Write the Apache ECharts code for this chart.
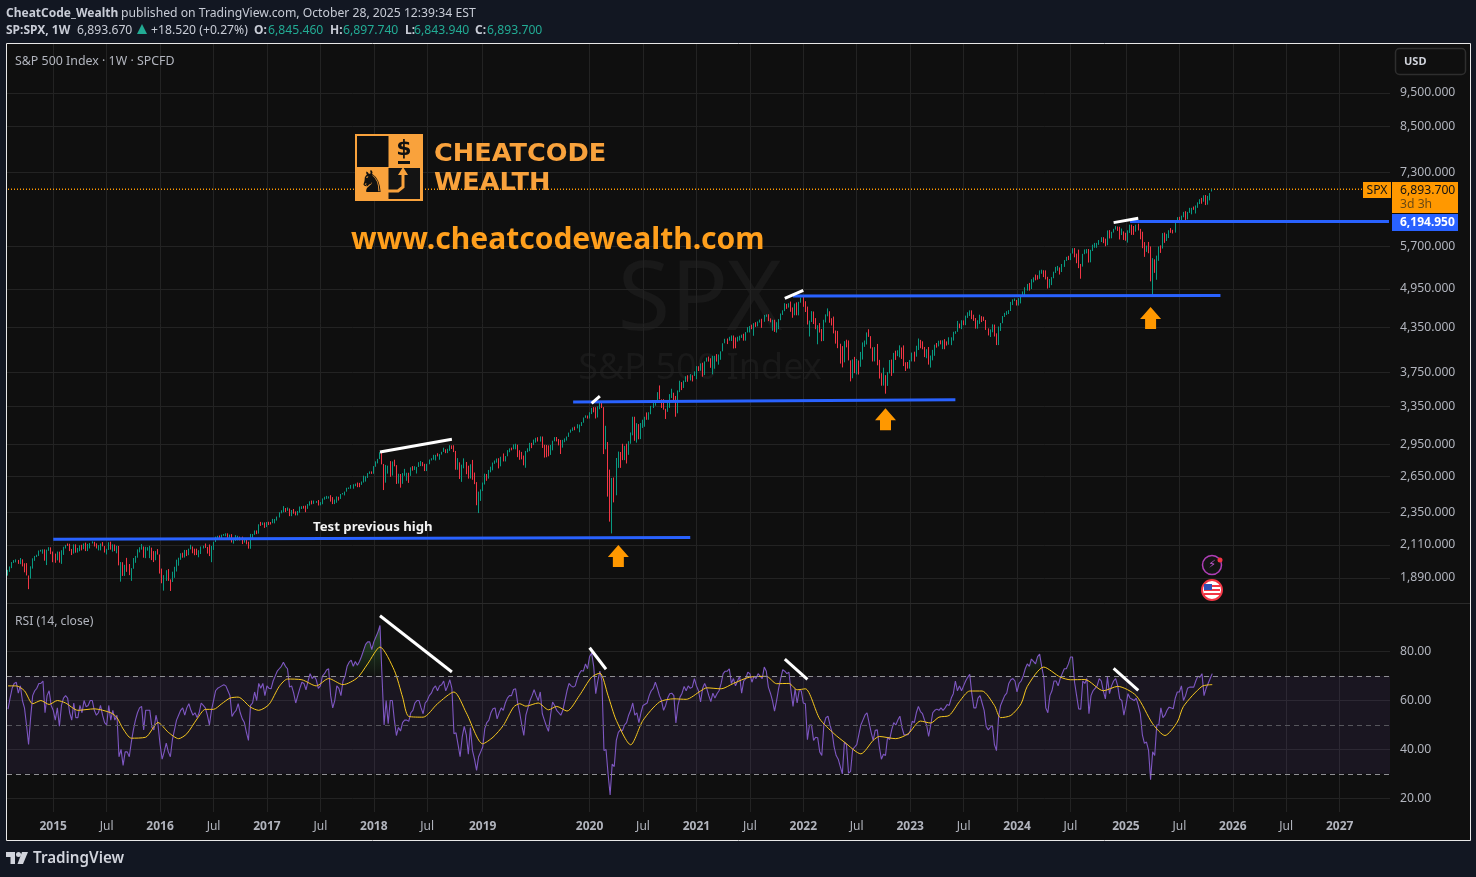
<!DOCTYPE html>
<html><head><meta charset="utf-8">
<script src="https://cdn.jsdelivr.net/npm/echarts@6/dist/echarts.min.js"></script>
<style>html,body{margin:0;padding:0;background:#121722}#c{width:1476px;height:877px}</style></head>
<body><div id="c"></div>
<script>
// weekly [high, low, close], per calendar year; first week starts 2014-08-04
const hlc2014=[[1942,1905,1931],[1964,1929,1955],[1993,1953,1988],[2006,1987,2003],[2011,1991,2007],[2007,1981,1985],[2020,1979,2011],[2001,1964,1983],[1985,1926,1968],[1986,1906,1906],[1906,1821,1887],[1965,1886,1965],[2018,1950,2018],[2034,2001,2032],[2042,2026,2040],[2071,2034,2064],[2076,2064,2068],[2079,2049,2075],[2079,2002,2002],[2077,1973,2071],[2094,2069,2089],[2093,2046,2059]];
const hlc2015=[[2064,1992,2045],[2050,1988,2019],[2064,2004,2051],[2063,1989,1995],[2073,1981,2055],[2097,2041,2097],[2110,2085,2110],[2120,2103,2105],[2118,2067,2071],[2082,2040,2053],[2114,2050,2108],[2114,2056,2061],[2089,2057,2066],[2107,2066,2102],[2111,2072,2081],[2120,2080,2117],[2126,2067,2108],[2117,2067,2116],[2123,2085,2122],[2135,2120,2126],[2132,2099,2107],[2121,2085,2092],[2109,2072,2094],[2120,2072,2110],[2130,2100,2102],[2089,2057,2077],[2083,2044,2077],[2129,2075,2127],[2133,2077,2079],[2114,2063,2104],[2113,2067,2078],[2104,2052,2091],[2103,1971,1971],[1993,1867,1989],[1992,1903,1921],[1975,1903,1961],[2021,1929,1958],[1980,1908,1931],[1953,1872,1951],[2020,1949,2014],[2034,1988,2033],[2079,2022,2075],[2094,2058,2079],[2116,2077,2099],[2094,2022,2023],[2097,2019,2089],[2094,2070,2090],[2104,2019,2091],[2090,2006,2012],[2067,1993,2005],[2067,2005,2061],[2081,2043,2044]];
const hlc2016=[[2038,1918,1922],[1950,1857,1880],[1908,1812,1906],[1940,1872,1940],[1947,1872,1880],[1881,1810,1865],[1930,1871,1917],[1962,1891,1948],[2009,1931,1999],[2022,1969,2022],[2052,2008,2050],[2056,2022,2035],[2075,2023,2072],[2075,2033,2047],[2084,2039,2081],[2111,2079,2091],[2099,2052,2065],[2084,2039,2057],[2084,2040,2046],[2073,2025,2052],[2099,2047,2099],[2105,2085,2099],[2120,2089,2096],[2096,2050,2071],[2113,2033,2037],[2103,1992,2103],[2132,2075,2130],[2169,2131,2162],[2175,2159,2175],[2177,2157,2174],[2183,2148,2183],[2188,2175,2184],[2193,2172,2184],[2193,2160,2169],[2184,2157,2180],[2187,2127,2128],[2149,2119,2139],[2180,2139,2165],[2175,2142,2168],[2169,2142,2154],[2169,2116,2133],[2154,2126,2141],[2151,2114,2126],[2133,2084,2085],[2189,2083,2164],[2188,2155,2182],[2214,2183,2213],[2214,2187,2192],[2260,2191,2260],[2278,2248,2258],[2274,2254,2264],[2274,2233,2239]];
const hlc2017=[[2277,2245,2277],[2279,2254,2275],[2277,2258,2271],[2301,2268,2295],[2300,2267,2297],[2319,2288,2316],[2352,2312,2351],[2368,2344,2367],[2401,2352,2383],[2386,2354,2373],[2390,2364,2378],[2382,2322,2344],[2370,2322,2363],[2378,2341,2356],[2359,2328,2329],[2362,2328,2349],[2398,2373,2384],[2400,2378,2399],[2403,2381,2391],[2405,2353,2382],[2418,2379,2416],[2440,2405,2439],[2446,2415,2432],[2446,2419,2433],[2442,2427,2438],[2450,2406,2423],[2433,2407,2425],[2463,2416,2459],[2477,2453,2472],[2484,2459,2472],[2480,2462,2477],[2490,2437,2441],[2474,2417,2425],[2454,2417,2444],[2480,2428,2477],[2472,2446,2461],[2500,2459,2500],[2508,2496,2502],[2520,2488,2519],[2552,2520,2549],[2555,2542,2553],[2576,2544,2575],[2582,2544,2581],[2588,2566,2587],[2597,2557,2582],[2594,2557,2578],[2606,2577,2602],[2657,2597,2642],[2652,2605,2652],[2680,2637,2675],[2695,2673,2683],[2695,2673,2674]];
const hlc2018=[[2743,2682,2743],[2787,2737,2786],[2810,2768,2810],[2873,2808,2873],[2870,2759,2762],[2763,2533,2620],[2754,2596,2732],[2747,2675,2747],[2789,2647,2691],[2786,2658,2786],[2802,2741,2752],[2741,2585,2588],[2674,2594,2640],[2672,2553,2605],[2680,2586,2656],[2718,2660,2670],[2683,2612,2670],[2683,2594,2663],[2732,2655,2728],[2743,2702,2713],[2742,2708,2721],[2736,2676,2735],[2779,2735,2779],[2790,2743,2780],[2774,2742,2755],[2764,2698,2718],[2764,2698,2760],[2804,2770,2801],[2816,2795,2802],[2848,2802,2819],[2848,2795,2840],[2863,2833,2833],[2855,2802,2850],[2877,2850,2875],[2916,2876,2901],[2897,2864,2871],[2906,2864,2904],[2941,2886,2929],[2939,2904,2914],[2940,2874,2885],[2874,2710,2767],[2817,2710,2767],[2778,2628,2658],[2756,2603,2723],[2815,2723,2781],[2775,2670,2736],[2747,2631,2632],[2760,2649,2760],[2800,2621,2633],[2685,2583,2600],[2601,2408,2416],[2520,2346,2506],[2538,2443,2532]];
const hlc2019=[[2597,2524,2596],[2675,2580,2671],[2672,2612,2665],[2708,2631,2707],[2738,2687,2708],[2776,2705,2776],[2795,2764,2793],[2813,2775,2803],[2816,2722,2743],[2830,2741,2822],[2861,2786,2801],[2836,2786,2834],[2893,2848,2893],[2910,2873,2907],[2917,2891,2905],[2949,2901,2940],[2955,2901,2946],[2932,2826,2881],[2892,2801,2860],[2876,2805,2826],[2841,2750,2752],[2885,2728,2873],[2911,2880,2887],[2964,2883,2950],[2964,2912,2942],[2996,2954,2990],[3014,2966,3014],[3020,2977,2977],[3028,2976,3026],[3027,2914,2932],[2945,2822,2919],[2943,2825,2889],[2939,2834,2847],[2943,2856,2926],[2985,2891,2979],[3021,2979,3007],[3022,2978,2992],[3002,2939,2962],[2993,2856,2952],[2993,2917,2970],[3008,2974,2986],[3027,2992,3023],[3067,3023,3067],[3098,3066,3093],[3120,3084,3120],[3128,3091,3110],[3154,3115,3141],[3150,3070,3146],[3176,3135,3169],[3225,3183,3221],[3248,3226,3240],[3246,3213,3235]];
const hlc2020=[[3282,3214,3265],[3330,3262,3330],[3338,3281,3295],[3337,3214,3225],[3347,3235,3328],[3385,3315,3380],[3393,3328,3338],[3260,2855,2954],[3137,2901,2972],[2882,2478,2711],[2605,2280,2305],[2637,2192,2541],[2641,2431,2489],[2818,2497,2790],[2879,2727,2875],[2844,2727,2837],[2955,2798,2830],[2934,2798,2930],[2955,2767,2864],[2980,2848,2955],[3068,2970,3044],[3233,3039,3194],[3233,2984,3041],[3165,2966,3098],[3155,2999,3009],[3166,3001,3130],[3201,3115,3185],[3233,3127,3225],[3280,3200,3215],[3282,3200,3271],[3352,3260,3351],[3387,3328,3372],[3399,3354,3397],[3509,3387,3508],[3588,3427,3426],[3425,3329,3341],[3428,3310,3319],[3320,3209,3298],[3393,3286,3348],[3486,3330,3477],[3549,3441,3483],[3502,3418,3465],[3465,3233,3270],[3529,3280,3509],[3645,3511,3585],[3628,3533,3558],[3646,3580,3638],[3699,3629,3699],[3712,3633,3663],[3726,3648,3709],[3712,3636,3703],[3760,3707,3756]];
const hlc2021=[[3826,3663,3825],[3823,3764,3768],[3861,3797,3841],[3870,3694,3714],[3887,3725,3887],[3937,3884,3935],[3950,3885,3907],[3928,3805,3811],[3960,3723,3842],[3960,3794,3943],[3983,3885,3913],[3978,3845,3975],[4020,3908,4020],[4129,4021,4129],[4191,4129,4185],[4195,4118,4180],[4219,4165,4181],[4238,4160,4233],[4237,4057,4174],[4210,4061,4156],[4220,4152,4204],[4234,4167,4229],[4249,4203,4247],[4262,4165,4166],[4286,4165,4281],[4356,4280,4352],[4372,4280,4369],[4393,4327,4327],[4415,4233,4411],[4429,4360,4395],[4440,4368,4436],[4468,4423,4468],[4480,4347,4441],[4537,4435,4509],[4545,4513,4535],[4548,4445,4458],[4486,4427,4432],[4465,4305,4455],[4465,4288,4357],[4429,4278,4391],[4475,4329,4471],[4559,4459,4544],[4608,4537,4605],[4718,4595,4697],[4708,4630,4682],[4718,4650,4698],[4744,4585,4595],[4652,4495,4538],[4713,4532,4712],[4731,4532,4620],[4740,4531,4726],[4808,4733,4766]];
const hlc2022=[[4819,4662,4677],[4749,4582,4663],[4665,4395,4398],[4453,4223,4432],[4595,4436,4501],[4590,4402,4419],[4490,4327,4349],[4385,4115,4385],[4416,4279,4329],[4327,4157,4204],[4465,4161,4463],[4546,4425,4543],[4637,4517,4546],[4593,4421,4488],[4471,4381,4393],[4513,4267,4272],[4308,4124,4132],[4303,4062,4123],[4081,3859,4024],[4090,3810,3901],[4158,3875,4158],[4178,4073,4109],[4168,3900,3901],[3837,3637,3675],[3913,3705,3911],[3946,3738,3825],[3919,3722,3899],[3875,3721,3863],[4012,3818,3962],[4141,3911,4130],[4167,4080,4145],[4281,4112,4280],[4326,4218,4228],[4203,4057,4058],[4074,3886,3924],[4077,3887,4067],[4120,3837,3873],[3907,3671,3693],[3737,3585,3586],[3807,3601,3639],[3713,3491,3583],[3752,3591,3752],[3905,3735,3901],[3911,3704,3771],[3999,3738,3993],[4028,3906,3965],[4034,3956,4026],[4101,3940,4072],[4052,3919,3934],[4100,3827,3852],[3876,3765,3845],[3879,3795,3840]];
const hlc2023=[[3906,3795,3895],[4003,3887,3999],[4015,3885,3973],[4095,3949,4071],[4195,4037,4136],[4176,4061,4090],[4156,4047,4079],[4060,3943,3970],[4048,3928,4046],[4078,3846,3862],[3964,3808,3917],[4039,3901,3971],[4110,3960,4109],[4133,4069,4105],[4164,4086,4138],[4170,4114,4134],[4170,4049,4169],[4186,4048,4136],[4155,4098,4124],[4212,4109,4192],[4212,4103,4205],[4290,4166,4282],[4299,4261,4299],[4448,4289,4409],[4408,4341,4348],[4458,4328,4450],[4456,4385,4399],[4527,4385,4505],[4578,4493,4536],[4607,4522,4582],[4607,4474,4478],[4541,4448,4464],[4491,4335,4370],[4458,4335,4406],[4541,4404,4515],[4519,4431,4457],[4511,4448,4450],[4462,4316,4320],[4339,4238,4288],[4324,4216,4309],[4398,4283,4327],[4394,4223,4224],[4268,4104,4117],[4366,4104,4358],[4418,4302,4415],[4521,4414,4514],[4569,4507,4559],[4595,4537,4595],[4610,4551,4604],[4739,4597,4719],[4778,4689,4755],[4793,4751,4770]];
const hlc2024=[[4754,4682,4697],[4798,4682,4784],[4842,4715,4840],[4907,4842,4891],[4975,4845,4959],[5031,4919,5027],[5048,4920,5006],[5111,4946,5089],[5142,5058,5137],[5190,5091,5124],[5179,5104,5117],[5262,5131,5234],[5275,5204,5254],[5265,5146,5204],[5263,5107,5123],[5151,4953,4967],[5114,4978,5100],[5146,5011,5128],[5240,5127,5223],[5325,5218,5303],[5342,5256,5305],[5315,5191,5277],[5376,5234,5347],[5447,5324,5431],[5506,5433,5465],[5524,5447,5460],[5570,5446,5567],[5666,5566,5615],[5669,5497,5505],[5566,5390,5459],[5640,5302,5346],[5377,5119,5344],[5561,5330,5554],[5643,5560,5634],[5651,5569,5648],[5651,5402,5408],[5636,5406,5626],[5733,5613,5703],[5767,5675,5738],[5767,5674,5751],[5822,5730,5815],[5878,5784,5865],[5878,5762,5808],[5850,5703,5728],[6012,5723,5996],[6018,5853,5871],[5985,5856,5969],[6044,5973,6032],[6099,6030,6090],[6089,6003,6051],[6085,5833,5931],[6050,5920,5971],[5992,5824,5942]];
const hlc2025=[[5965,5809,5827],[6014,5773,5997],[6128,5962,6101],[6128,5923,6040],[6101,5923,6026],[6127,5986,6115],[6147,6011,6013],[6043,5837,5955],[5986,5666,5770],[5783,5505,5639],[5716,5597,5667],[5786,5572,5581],[5700,5074,5074],[5482,4835,5363],[5460,5220,5283],[5528,5101,5525],[5700,5433,5687],[5720,5578,5660],[5959,5736,5958],[5969,5768,5803],[5944,5846,5912],[6016,5861,6000],[6059,5964,5977],[6024,5952,5968],[6188,5983,6173],[6284,6177,6279],[6290,6201,6260],[6315,6201,6297],[6395,6281,6389],[6409,6212,6238],[6395,6262,6389],[6481,6373,6450],[6482,6343,6467],[6509,6439,6460],[6533,6360,6482],[6601,6481,6584],[6671,6563,6664],[6700,6570,6644],[6758,6615,6716],[6764,6541,6553],[6745,6550,6664],[6808,6644,6792],[6897.74,6843.94,6893.7]];
// RSI (14)
const rsi2014=[56.5,61,65,67,67.5,63,66,60,57,50,42,53,62,64,65,67,67,68,55,62,64,58];
const rsi2015=[56,52,57,49.5,58,61,62,61,55,52,59,53,53,58,55,60,57.5,58,60,60,56,54,55,58,54,51,50,58,52,56,52,54,37,40,33.5,39,39,37,43,48,52,55,57,57.6,48,56,56,56,49,48,54,50];
const rsi2016=[42,36,39,42.6,39,37,44,48,52,54,56,57,54,57,58.7,56,54,55,53,55,59,58,57,54,50,56,60,64,65,65.5,66,66.5,66,64,62,53.5,55,56,58.7,55,52.5,51,47,43.7,58,59,63.5,60,67,65,67,62];
const rsi2017=[66,65,64.8,68,70,72,73,74,75.7,74,73,65.5,66,63,59,62,65,67.5,67,64.4,68,71,69,70,68.5,65,66,70,71,72.5,73,62,57,60,66,65,62,68,70,74,75.7,76.5,74,76,74.4,76,78,80.5,83,84,84,80.8];
const rsi2018=[84,86,88,90.7,69.6,50,60,50.5,60,60,52,45.7,49,47.5,51,52,52,51.5,55,56,59,60,60,57,54.6,59,60,62,63,65,66,64,66,66.5,68,64,66,68.5,65,46.4,46.8,42,37,45,49.4,46,38,49,39.6,36,31.4,37,39];
const rsi2019=[41,48.5,51,52,55,56.6,57,52.5,55,57,56,59,61,62,62,64.5,64.8,59,55,50,45.7,54,57,60,62,64.4,62,60,63.5,54.6,52,49.5,47.4,54,59.4,58,56,55,54,56,60,64,67,66,65.5,66,69,71,72.3,72,75,73];
const rsi2020=[78,79.4,74,62.8,68,72,68,39.6,40,30,21.4,34,33,43.7,47,48,47.7,50,51,54,56,59,54,55,51,55,58,58.5,59,62,64,65,67.5,65,62,60,56,58,61,62.8,63,62,50.8,58,61.4,63,65.8,64,66,65,65.5,69];
const rsi2021=[66,64,59.4,65,67,65,62,59.6,63,61,62.8,64,67,71,72,72,73,67,69,66,68,70,63,68,69,71.6,71,67.5,70,69,71,70,69,73.7,72,65.5,63,60,55.7,60,65,69,72.6,72,71,71.6,64,57.6,64.8,59,64,64];
const rsi2022=[59,58.7,44,50,50,43.7,45,44.8,39,37.5,50,53,53.6,50,47,41,37.5,36,33,30,43,42,30.3,31,40,41,42,46,50,52,54,55,51,47,43.7,47.8,48,41,36,38,37.5,45,44,48,51,50,52,53.6,49,46,46,46];
const rsi2023=[47.5,51.5,51,55,57.6,55.5,54.6,52,50,45.3,50,55,56,56.5,56,57,56,57,58.4,58,61,62.8,68,64,66,64,66,68,69.5,70.7,62.8,57,57,61,62,59,56,49.4,48,49,50,42,39.5,53,58,60,62,63,67,68.5,69,68];
const rsi2024=[63.5,67,68,70,73,75,74,77,76,75,78,79,74,69.6,57,55,62,64,68,68,66,69,71,73,73,75,77.8,77.8,67.5,62,56.6,56.5,68,67,69,54.6,62,64,65,66,69,68,64,60.7,69.6,62.8,66,68,69,66,60.7,60,54];
const rsi2025=[58,62.8,61,60.5,60,61,58,54.6,46,42.5,43,39.6,27.6,39,37.5,50,50,57,53,54,56,57.3,57,56.6,61,63.5,63.5,66,60,62,65,65.5,65.5,65.5,68,70,69.5,71,62,65,67,69,71];
// RSI moving average sampled along the yellow line: week index, value
const rsiMaWeeks=[0,4,8,12,16,20,24,28,34,42,50,53,56,60,67,73,78,83,87,92,96,100,104,108,112,118,122,127,132,136,143,150,156,163,170,175,181,188,192,195,202,209,217,223,231,236,241,246,249,252,258,263,267,272,278,284,288,292,296,303,309,317,324,330,337,340,347,353,361,369,374,380,384,388,395,402,407,415,421,424,432,438,444,449,453,458,463,468,474,480,483,488,493,496,504,512,517,524,533,540,549,557,563,569,572,581,586];
const rsiMaValues=[66,66,64,58.7,60,58.4,60,59,56,56.6,55,53,48.4,44.6,45,51,47,44.4,46.4,52.5,56.4,56.4,58.7,61,61.4,57.3,56,58.4,65.8,68.8,68.5,66,69,66.5,69.3,75,81.9,72.3,61.4,53.5,53.2,58.7,63.5,55,42.3,45,49.8,57.3,58.7,57.7,59,56.2,57.6,55.7,62,69.6,71.2,62,51.9,41.9,51.9,59.4,60.7,60.5,63.9,65.2,64.8,67,69.6,69.9,66.9,67,64.4,64.8,52.5,46.4,43,38.2,43.7,45.3,44.4,46.4,51.6,50.8,53.2,53.9,59.6,63.9,63.9,58,53,53.9,58.7,65.8,73.7,69.6,68.5,68.6,64,65.8,62,50.5,45.7,51.2,57.6,65.8,66.5];
const priceTicks=[1890,2110,2350,2650,2950,3350,3750,4350,4950,5700,7300,8500,9500];
const rsiTicks=[20,40,60,80];
const timeTicks=[['2015-01-05','2015'],['2015-07-06','Jul'],['2016-01-04','2016'],['2016-07-04','Jul'],['2017-01-02','2017'],['2017-07-03','Jul'],['2018-01-01','2018'],['2018-07-02','Jul'],['2019-01-07','2019'],['2020-01-06','2020'],['2020-07-06','Jul'],['2021-01-04','2021'],['2021-07-05','Jul'],['2022-01-03','2022'],['2022-07-04','Jul'],['2023-01-02','2023'],['2023-07-03','Jul'],['2024-01-01','2024'],['2024-07-01','Jul'],['2025-01-06','2025'],['2025-07-07','Jul'],['2026-01-05','2026'],['2026-07-06','Jul'],['2027-01-04','2027']];
// annotations, in [week index, value]
const blueLines=[[[22,2151],[332,2162]],[[275,3396],[461,3422]],[[382,4832],[590,4842]],[[546,6194.95],[672,6194.95]]];
const whitePriceLines=[[[181,2875],[216,3000]],[[284,3381],[288,3464]],[[378,4795],[387,4924]],[[538,6170],[550,6262]]];
const whiteRsiLines=[[[181,94.7],[216,71.7]],[[283,81.6],[291,72.8]],[[378,76.9],[389,68.7]],[[538,73.2],[550,64.2]]];
const arrowPoints=[[297,2033],[427,3205],[556,4492]];
const lastPrice=6893.7;

const weekCount=673;
const categories=[];
{const d=new Date(Date.UTC(2014,7,4));for(let i=0;i<weekCount;i++){categories.push(d.toISOString().slice(0,10));d.setUTCDate(d.getUTCDate()+7);}}
const hlc=[].concat(hlc2014,hlc2015,hlc2016,hlc2017,hlc2018,hlc2019,hlc2020,hlc2021,hlc2022,hlc2023,hlc2024,hlc2025);
const rsi=[].concat(rsi2014,rsi2015,rsi2016,rsi2017,rsi2018,rsi2019,rsi2020,rsi2021,rsi2022,rsi2023,rsi2024,rsi2025);
let prev=1920;
const candles=hlc.map((w,i)=>{const o=i===hlc.length-1?6845.46:prev;prev=w[2];return [o,w[2],Math.min(w[1],o,w[2]),Math.max(w[0],o,w[2])];});
const rsiMa=rsiMaWeeks.map((w,i)=>[w,rsiMaValues[i]]);
const tickMap=new Map(timeTicks);
const isTick=(i,v)=>tickMap.has(v);
const FONT='"Noto Sans",sans-serif';
const ORANGE='#ff9800',LOGO='#f9a23c',GRID='#232323';

const lineSeries=(data,color,width,x,y,extra)=>Object.assign({type:'line',data,xAxisIndex:x,yAxisIndex:y,symbol:'none',silent:true,animation:false,lineStyle:{color,width},z:6},extra||{});
const series=[
 {name:'SPX',type:'candlestick',data:candles,xAxisIndex:0,yAxisIndex:0,barWidth:1.2,animation:false,silent:true,z:3,
  itemStyle:{color:'#089981',color0:'#f23645',borderColor:'#089981',borderColor0:'#f23645',borderWidth:1}},
 lineSeries([[0,lastPrice],[672,lastPrice]],ORANGE,1,0,0,{lineStyle:{color:ORANGE,width:1.5,type:[1,2]},z:2}),
 ...blueLines.map(l=>lineSeries(l,'#2962ff',3,0,0,{z:5})),
 ...whitePriceLines.map(l=>lineSeries(l,'#ffffff',3,0,0)),
 {type:'scatter',data:arrowPoints,xAxisIndex:0,yAxisIndex:0,symbol:'path://M10.5 0 L21 12 H16 V22 H5 V12 H0 Z',symbolSize:[21,22],itemStyle:{color:ORANGE,opacity:1},silent:true,animation:false,z:7},
 {name:'Overbought',type:'line',data:rsi.map(v=>Math.max(v,70)),xAxisIndex:1,yAxisIndex:1,symbol:'none',silent:true,animation:false,lineStyle:{width:0},z:2,
  areaStyle:{origin:70,color:{type:'linear',global:true,x:0,y:604,x2:0,y2:676,colorStops:[{offset:0,color:'rgba(76,175,80,0.8)'},{offset:1,color:'rgba(76,175,80,0.02)'}]}}},
 {name:'RSI',type:'line',data:rsi,xAxisIndex:1,yAxisIndex:1,symbol:'none',silent:true,animation:false,z:3,lineStyle:{color:'#7e57c2',width:1.1},
  markArea:{silent:true,animation:false,itemStyle:{color:'rgba(126,87,194,0.1)'},data:[[{yAxis:30},{yAxis:70}]]},
  markLine:{silent:true,animation:false,symbol:'none',label:{show:false},
   data:[{yAxis:70,lineStyle:{color:'#8f8f93',type:[5,4],width:1}},{yAxis:50,lineStyle:{color:'#56565c',type:[5,4],width:1}},{yAxis:30,lineStyle:{color:'#8f8f93',type:[5,4],width:1}}]}},
 lineSeries(rsiMa,'#f7c81e',1,1,1,{z:4,smooth:0.25}),
 ...whiteRsiLines.map(l=>lineSeries(l,'#ffffff',3,1,1)),
];

const SF='12.2px '+FONT, BF='bold 12px '+FONT;
const T=(x,y,text,o)=>{o=o||{};const z=o.z||50;const s=Object.assign({text,fill:'#b2b5be',font:SF,verticalAlign:'middle',align:'left'},o);delete s.z;return {type:'text',x,y:y+1.7,z,style:s};};
const R=(x,y,w,h,fill,o)=>Object.assign({type:'rect',shape:{x,y,width:w,height:h},z:40,style:{fill}},o||{});
const graphic=[
 R(6.5,43.5,1464,797,'#0f0f0f',{z:-10,style:{fill:'#0f0f0f',stroke:'#e8e8e8',lineWidth:1}}),
 {type:'line',z:-5,shape:{x1:7,y1:603.5,x2:1470,y2:603.5},style:{stroke:'#2a2a2a',lineWidth:1}},
 T(700,301,'SPX',{font:'96px '+FONT,fill:'#191919',align:'center',z:-4}),
 T(700,367,'S&P 500 Index',{font:'36px '+FONT,fill:'#191919',align:'center',z:-4}),
 // header
 T(6,12,'CheatCode_Wealth',{font:BF,fill:'#c8ccd6'}),
 T(121,12,'published on TradingView.com, October 28, 2025 12:39:34 EST',{fill:'#c8ccd6'}),
 T(6,29,'SP:SPX, 1W',{font:BF,fill:'#c8ccd6'}),
 T(77,29,'6,893.670',{fill:'#c8ccd6'}),
 {type:'polygon',z:50,shape:{points:[[142,24],[147,34],[137,34]]},style:{fill:'#22ab94'}},
 T(151,29,'+18.520 (+0.27%)',{fill:'#c8ccd6'}),
 T(254,29,'O:',{font:BF,fill:'#c8ccd6'}),T(268,29,'6,845.460',{fill:'#22ab94'}),
 T(330,29,'H:',{font:BF,fill:'#c8ccd6'}),T(343,29,'6,897.740',{fill:'#22ab94'}),
 T(405,29,'L:',{font:BF,fill:'#c8ccd6'}),T(414,29,'6,843.940',{fill:'#22ab94'}),
 T(475,29,'C:',{font:BF,fill:'#c8ccd6'}),T(487,29,'6,893.700',{fill:'#22ab94'}),
 // pane titles
 T(15,60,'S&P 500 Index · 1W · SPCFD',{font:'12.4px '+FONT}),
 T(15,620,'RSI (14, close)'),
 // USD
 {type:'rect',z:40,shape:{x:1395.5,y:48.5,width:70,height:26,r:4},style:{fill:'#0f0f0f',stroke:'#2e2e2e',lineWidth:1.5}},
 T(1404,60,'USD',{font:'bold 11px '+FONT,fill:'#d1d4dc'}),
 // price labels
 R(1363,182,28,16,ORANGE),T(1377,189,'SPX',{fill:'#131313',align:'center'}),
 R(1392,182,66,31,ORANGE),T(1400,188.5,'6,893.700',{fill:'#131313'}),T(1400,202.5,'3d 3h',{fill:'#6b4a12'}),
 R(1392,214,66,17,'#2962ff'),T(1400,221,'6,194.950',{font:BF,fill:'#ffffff'}),
 // annotation
 T(313,525.5,'Test previous high',{font:'bold 13.2px '+FONT,fill:'#f2f2f2'}),
 // logo
 R(355,134,68,67,LOGO),R(357,136,31.5,31,'#0f0f0f'),R(388.5,168,31.5,31,'#141414'),
 T(404,148,'$',{font:'bold 22px "DejaVu Sans"',fill:'#111',align:'center',z:41}),
 R(398,161,12,3,'#111',{z:41}),
 T(372,183,'♞',{font:'30px "DejaVu Sans"',fill:'#111',align:'center',z:41}),
 {type:'polyline',z:42,shape:{points:[[388,191],[398,191],[403,187],[403,174]]},style:{stroke:LOGO,lineWidth:3,fill:'none'}},
 {type:'polygon',z:42,shape:{points:[[403,167],[408,175],[398,175]]},style:{fill:LOGO}},
 T(434,152.5,'CHEATCODE',{font:'bold 25.6px "DejaVu Sans"',fill:LOGO}),
 T(434,181.5,'WEALTH',{font:'bold 25.6px "DejaVu Sans"',fill:LOGO}),
 T(351,238.5,'www.cheatcodewealth.com',{font:'bold 30px '+FONT,fill:'#ff9f1c'}),
 // icons
 {type:'circle',z:40,shape:{cx:1212,cy:565,r:9.5},style:{fill:'#141414',stroke:'#b03fb8',lineWidth:1.5}},
 T(1212,563.5,'⚡',{font:'11px "DejaVu Sans"',fill:'#c05ad0',align:'center',z:41}),
 {type:'circle',z:42,shape:{cx:1220,cy:560,r:2.5},style:{fill:'#f23645'}},
 {type:'circle',z:40,shape:{cx:1212,cy:590,r:10},style:{fill:'#ffffff',stroke:'#f23645',lineWidth:2}},
 R(1204,585,16,2,'#f23645',{z:41}),R(1204,589,16,2,'#f23645',{z:41}),R(1204,593,16,2,'#f23645',{z:41}),
 R(1204,584,8,6,'#2f4fb5',{z:42}),
 // footer logo
 {type:'polygon',z:50,shape:{points:[[6,852],[15,852],[15,864],[10.5,864],[10.5,857],[6,857]]},style:{fill:'#d1d4dc'}},
 {type:'polygon',z:50,shape:{points:[[22,852],[28,852],[23,864],[17.5,864]]},style:{fill:'#d1d4dc'}},
 {type:'circle',z:50,shape:{cx:18.5,cy:854.5,r:2.5},style:{fill:'#d1d4dc'}},
 T(33,856.5,'TradingView',{font:'600 15.2px '+FONT,fill:'#d1d4dc'}),
];

const yCommon={type:'value',position:'right',axisLine:{show:false},axisTick:{show:false}};
const labelStyle={color:'#b2b5be',fontSize:12.2,fontFamily:FONT,margin:10,padding:[6,0,0,0]};
const option={
 backgroundColor:'#121722',animation:false,textStyle:{fontFamily:FONT},
 grid:[{left:7,top:44,width:1383,height:559,containLabel:false},{left:7,top:604,width:1383,height:208,containLabel:false}],
 xAxis:[0,1].map(g=>({type:'category',gridIndex:g,data:categories,boundaryGap:true,
  axisLine:{show:false},axisTick:{show:false,alignWithLabel:true,interval:isTick},
  splitLine:{show:true,alignWithLabel:true,interval:isTick,lineStyle:{color:GRID,width:1}},
  axisLabel:g===0?{show:false,interval:isTick}:{show:true,interval:isTick,margin:9,hideOverlap:false,
   formatter:v=>{const l=tickMap.get(v);return l==null?'':(l==='Jul'?'{m|Jul}':'{y|'+l+'}');},
   rich:{y:{color:'#b2b5be',fontWeight:'bold',fontSize:12,fontFamily:FONT},m:{color:'#b2b5be',fontSize:12,fontFamily:FONT}}}})),
 yAxis:[
  Object.assign({},yCommon,{type:'log',logBase:10,gridIndex:0,min:1739,max:11183,
   axisTick:{show:false,customValues:priceTicks},
   splitLine:{show:true,lineStyle:{color:GRID,width:1}},
   axisLabel:Object.assign({},labelStyle,{customValues:priceTicks,formatter:v=>Math.round(v).toLocaleString('en-US')+'.000'})}),
  Object.assign({},yCommon,{gridIndex:1,min:14.4,max:99.5,
   axisTick:{show:false,customValues:rsiTicks},
   splitLine:{show:true,lineStyle:{color:GRID,width:1}},
   axisLabel:Object.assign({},labelStyle,{padding:[4,0,0,0],customValues:rsiTicks,formatter:v=>Number(v).toFixed(2)})})
 ],
 series,graphic
};
echarts.init(document.getElementById('c'),null,{renderer:'canvas'}).setOption(option);
</script></body></html>
